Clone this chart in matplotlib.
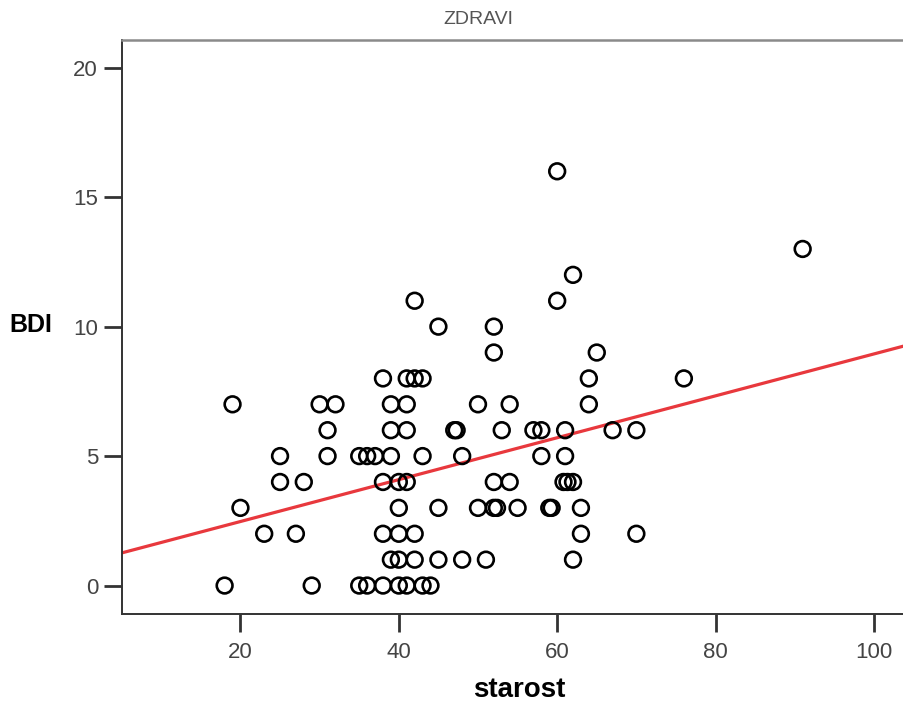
import matplotlib.pyplot as plt
import numpy as np

plt.rcParams['font.family'] = ['Liberation Sans', 'DejaVu Sans']

# BDI score levels and the ages (starost) of respondents at each level
bdi_levels = [0, 1, 2, 3, 4, 5, 6, 7, 8, 9, 10, 11, 12, 13, 16]
starost_by_level = [
    [18, 29, 35, 36, 38, 40, 41, 43, 44],
    [39, 40, 42, 45, 48, 51, 62],
    [23, 27, 38, 40, 42, 63, 70],
    [20, 40, 45, 50, 52, 52.4, 55, 59, 59.3, 63],
    [25, 28, 38, 40, 41, 52, 54, 60.8, 61.3, 62],
    [25, 31, 35, 36, 37, 39, 43, 48, 58, 61],
    [31, 39, 41, 47, 47.3, 53, 57, 58, 61, 67, 70],
    [19, 30, 32, 39, 41, 50, 54, 64],
    [38, 41, 42, 43, 64, 76],
    [52, 65],
    [45, 52],
    [42, 60],
    [62],
    [91],
    [60],
]

starost = [a for ages in starost_by_level for a in ages]
bdi = [lvl for lvl, ages in zip(bdi_levels, starost_by_level) for _ in ages]

# linear fit line (intercept, slope)
fit_b0 = 0.855
fit_b1 = 0.0809

xmin, xmax = 5.0, 103.8
ymin, ymax = -1.1, 21.07

fig = plt.figure(figsize=(9.04, 7.07), dpi=100)
ax = fig.add_axes([0.1346, 0.1315, 0.8654, 0.8119])

ax.scatter(starost, bdi, s=128, facecolors='none', edgecolors='black',
           linewidths=1.9, zorder=3)

xs = np.array([xmin, xmax])
ax.plot(xs, fit_b0 + fit_b1 * xs, color='#e8383d', linewidth=2.3, zorder=2)

ax.set_xlim(xmin, xmax)
ax.set_ylim(ymin, ymax)
ax.set_xticks([20, 40, 60, 80, 100])
ax.set_yticks([0, 5, 10, 15, 20])

for side in ['left', 'bottom']:
    ax.spines[side].set_color('#333333')
    ax.spines[side].set_linewidth(1.4)
ax.spines['top'].set_color('#8a8a8a')
ax.spines['top'].set_linewidth(1.8)
ax.spines['right'].set_visible(False)

ax.tick_params(axis='both', direction='out', length=13, width=2.0,
               color='#333333', labelsize=16, labelcolor='#444444')
ax.tick_params(axis='x', pad=7)
ax.tick_params(axis='y', pad=4)

fig.text(0.574, 1 - 690 / 707, 'starost', fontsize=20, fontweight='bold',
         ha='center', va='center')
fig.text(0.034, 1 - 325 / 707, 'BDI', fontsize=18, fontweight='bold',
         ha='center', va='center')

fig.text(0.529, 1 - 20 / 707, 'ZDRAVI', fontsize=14, color='#555555',
         ha='center', va='center')

plt.savefig('out.png', dpi=100)
